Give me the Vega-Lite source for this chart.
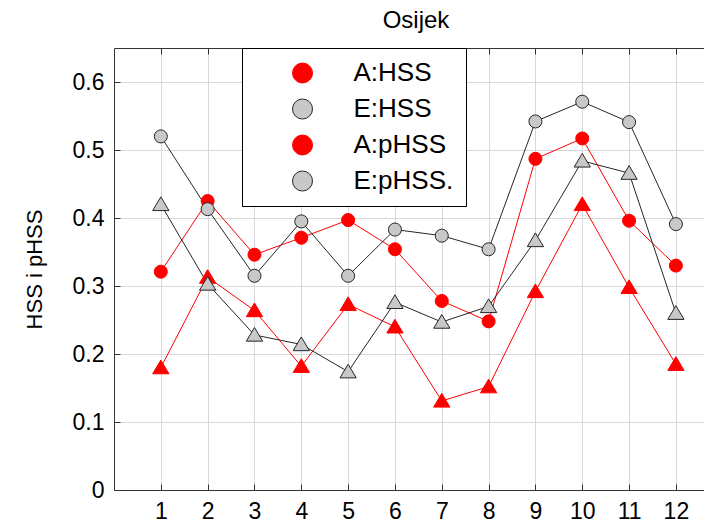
{
  "$schema": "https://vega.github.io/schema/vega-lite/v6.json",
  "width": 590,
  "height": 442,
  "autosize": {"type": "none"},
  "padding": {"left": 114, "top": 48, "right": 0, "bottom": 33},
  "title": {"text": "Osijek", "fontSize": 24, "font": "Liberation Sans", "fontWeight": "normal", "color": "black", "offset": 15, "dx": 7},
  "config": {
    "view": {"stroke": null},
    "font": "Liberation Sans"
  },
  "data": {
    "values": [
      {"month": 1, "series": "A:HSS", "value": 0.321}, {"month": 2, "series": "A:HSS", "value": 0.425}, {"month": 3, "series": "A:HSS", "value": 0.346}, {"month": 4, "series": "A:HSS", "value": 0.371}, {"month": 5, "series": "A:HSS", "value": 0.397}, {"month": 6, "series": "A:HSS", "value": 0.354}, {"month": 7, "series": "A:HSS", "value": 0.278}, {"month": 8, "series": "A:HSS", "value": 0.248}, {"month": 9, "series": "A:HSS", "value": 0.487}, {"month": 10, "series": "A:HSS", "value": 0.517}, {"month": 11, "series": "A:HSS", "value": 0.396}, {"month": 12, "series": "A:HSS", "value": 0.330},
      {"month": 1, "series": "E:HSS", "value": 0.520}, {"month": 2, "series": "E:HSS", "value": 0.413}, {"month": 3, "series": "E:HSS", "value": 0.315}, {"month": 4, "series": "E:HSS", "value": 0.395}, {"month": 5, "series": "E:HSS", "value": 0.315}, {"month": 6, "series": "E:HSS", "value": 0.383}, {"month": 7, "series": "E:HSS", "value": 0.374}, {"month": 8, "series": "E:HSS", "value": 0.354}, {"month": 9, "series": "E:HSS", "value": 0.542}, {"month": 10, "series": "E:HSS", "value": 0.571}, {"month": 11, "series": "E:HSS", "value": 0.541}, {"month": 12, "series": "E:HSS", "value": 0.391},
      {"month": 1, "series": "A:pHSS", "value": 0.180}, {"month": 2, "series": "A:pHSS", "value": 0.313}, {"month": 3, "series": "A:pHSS", "value": 0.264}, {"month": 4, "series": "A:pHSS", "value": 0.182}, {"month": 5, "series": "A:pHSS", "value": 0.273}, {"month": 6, "series": "A:pHSS", "value": 0.240}, {"month": 7, "series": "A:pHSS", "value": 0.131}, {"month": 8, "series": "A:pHSS", "value": 0.152}, {"month": 9, "series": "A:pHSS", "value": 0.292}, {"month": 10, "series": "A:pHSS", "value": 0.420}, {"month": 11, "series": "A:pHSS", "value": 0.298}, {"month": 12, "series": "A:pHSS", "value": 0.185},
      {"month": 1, "series": "E:pHSS.", "value": 0.420}, {"month": 2, "series": "E:pHSS.", "value": 0.303}, {"month": 3, "series": "E:pHSS.", "value": 0.228}, {"month": 4, "series": "E:pHSS.", "value": 0.214}, {"month": 5, "series": "E:pHSS.", "value": 0.174}, {"month": 6, "series": "E:pHSS.", "value": 0.276}, {"month": 7, "series": "E:pHSS.", "value": 0.247}, {"month": 8, "series": "E:pHSS.", "value": 0.270}, {"month": 9, "series": "E:pHSS.", "value": 0.367}, {"month": 10, "series": "E:pHSS.", "value": 0.484}, {"month": 11, "series": "E:pHSS.", "value": 0.466}, {"month": 12, "series": "E:pHSS.", "value": 0.260}
    ]
  },
  "transform": [
    {"calculate": "split(datum.series, ':')[1]", "as": "score"}
  ],
  "layer": [
    {
      "mark": {"type": "line", "strokeWidth": 1},
      "encoding": {
        "x": {
          "field": "month", "type": "quantitative",
          "scale": {"domain": [0, 12.6], "nice": false, "zero": false},
          "axis": {"orient": "top", "values": [1, 2, 3, 4, 5, 6, 7, 8, 9, 10, 11, 12], "labels": false, "grid": false, "ticks": true, "tickSize": -6, "tickWidth": 1, "tickColor": "#333333", "domain": true, "domainColor": "#333333", "title": null}
        },
        "y": {
          "field": "value", "type": "quantitative",
          "scale": {"domain": [0, 0.65], "nice": false},
          "axis": {"values": [0, 0.1, 0.2, 0.3, 0.4, 0.5, 0.6], "format": "~g", "title": "HSS i pHSS", "titleFont": "Liberation Sans", "titleFontSize": 22, "titleFontWeight": "normal", "titleColor": "black", "titlePadding": 26, "labelFont": "Liberation Sans", "labelFontSize": 23, "labelColor": "black", "labelPadding": 16, "ticks": true, "tickSize": -6, "tickWidth": 1, "tickColor": "#333333", "domain": true, "domainColor": "#333333", "grid": true, "gridColor": "#d9d9d9"}
        },
        "stroke": {
          "field": "series", "type": "nominal",
          "scale": {"domain": ["A:HSS", "E:HSS", "A:pHSS", "E:pHSS."], "range": ["#ff0000", "#262626", "#ff0000", "#262626"]}
        }
      }
    },
    {
      "mark": {"type": "point", "opacity": 1, "strokeWidth": 1, "size": 170},
      "encoding": {
        "x": {
          "field": "month", "type": "quantitative",
          "axis": {"orient": "bottom", "values": [1, 2, 3, 4, 5, 6, 7, 8, 9, 10, 11, 12], "title": null, "labelFont": "Liberation Sans", "labelFontSize": 23, "labelColor": "black", "labelPadding": 16, "ticks": true, "tickSize": -6, "tickWidth": 1, "tickColor": "#333333", "domain": true, "domainColor": "#333333", "grid": true, "gridColor": "#d9d9d9"}
        },
        "y": {
          "field": "value", "type": "quantitative",
          "axis": {"values": [0, 0.1, 0.2, 0.3, 0.4, 0.5, 0.6], "format": "~g", "title": "HSS i pHSS", "titleFont": "Liberation Sans", "titleFontSize": 22, "titleFontWeight": "normal", "titleColor": "black", "titlePadding": 26, "labelFont": "Liberation Sans", "labelFontSize": 23, "labelColor": "black", "labelPadding": 16, "ticks": true, "tickSize": -6, "tickWidth": 1, "tickColor": "#333333", "domain": true, "domainColor": "#333333", "grid": true, "gridColor": "#d9d9d9"}
        },
        "shape": {
          "field": "score", "type": "nominal",
          "scale": {"domain": ["HSS", "pHSS", "pHSS."], "range": ["circle", "M-1.25,0.95L0,-1.15L1.25,0.95Z", "M-1.25,0.95L0,-1.15L1.25,0.95Z"]},
          "legend": null
        },
        "fill": {
          "field": "series", "type": "nominal",
          "scale": {"domain": ["A:HSS", "E:HSS", "A:pHSS", "E:pHSS."], "range": ["#ff0000", "#c8c8c8", "#ff0000", "#c8c8c8"]},
          "legend": {
            "title": null, "orient": "none", "legendX": 128, "legendY": 0, "direction": "vertical",
            "strokeColor": "black", "fillColor": "white", "padding": 12,
            "labelFont": "Liberation Sans", "labelFontSize": 26, "labelColor": "black", "labelOffset": 38,
            "symbolSize": 400, "symbolOffset": 35.5, "symbolStrokeWidth": 1, "rowPadding": 10,
            "encode": {"symbols": {"shape": {"signal": "indexof(datum.value, 'pHSS') >= 0 ? 'M-4.3,0L-0.56,0M0.56,0L4.3,0M-1,0.7L0,-0.9L1,0.7Z' : 'M-4.3,0L-0.75,0M0.75,0L4.3,0M0.75,0A0.75,0.75,0,1,1,-0.75,0A0.75,0.75,0,1,1,0.75,0Z'"}}}
          }
        },
        "stroke": {
          "field": "series", "type": "nominal"
        }
      }
    }
  ],
  "resolve": {"axis": {"x": "independent"}}
}
